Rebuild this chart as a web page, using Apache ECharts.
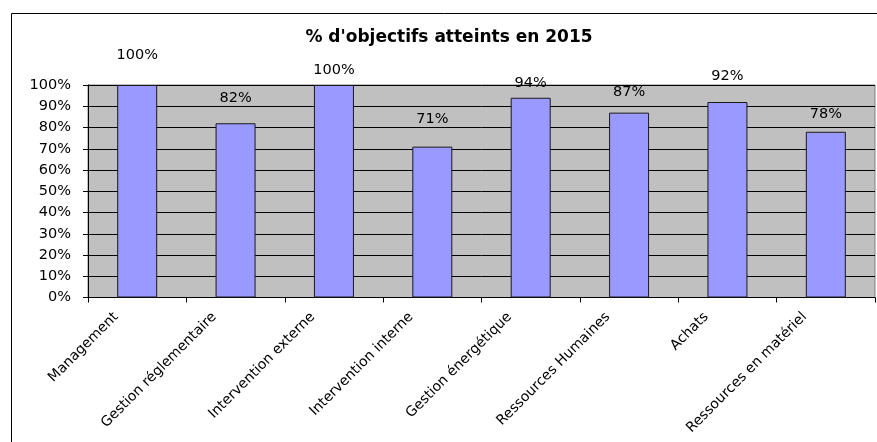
<!DOCTYPE html>
<html>
<head>
<meta charset="utf-8">
<script src="https://cdn.jsdelivr.net/npm/echarts@6/dist/echarts.min.js"></script>
<style>
html,body{margin:0;padding:0;background:#fff;}
#chart{width:877px;height:442px;}
</style>
</head>
<body>
<div id="chart"></div>
<script>
const titleText = "% d'objectifs atteints en 2015";
const categories = ["Management", "Gestion réglementaire", "Intervention externe", "Intervention interne", "Gestion énergétique", "Ressources Humaines", "Achats", "Ressources en matériel"];
const values = [100, 82, 100, 71, 94, 87, 92, 78];
const yTicks = [0, 10, 20, 30, 40, 50, 60, 70, 80, 90, 100];
// label gap above each bar (style only)
const labelGaps = [22, 18, 7, 20, 7, 13, 18, 10];

const FONT = "'DejaVu Sans', Arial, sans-serif";
const chart = echarts.init(document.getElementById('chart'), null, {renderer: 'canvas'});
chart.setOption({
  animation: false,
  backgroundColor: '#fff',
  title: {
    text: titleText,
    left: 444, top: 24, textAlign: 'center',
    textStyle: {fontFamily: FONT, fontSize: 17, fontWeight: 'bold', color: '#000'}
  },
  graphic: [
    {type: 'line', shape: {x1: 11.5, y1: 13.5, x2: 877, y2: 13.5}, style: {stroke: '#000', lineWidth: 1}},
    {type: 'line', shape: {x1: 11.5, y1: 13.5, x2: 11.5, y2: 442}, style: {stroke: '#000', lineWidth: 1}}
  ],
  grid: {left: 88, top: 85, width: 787, height: 212.5, containLabel: false, outerBoundsMode: 'none', show: true, backgroundColor: '#C0C0C0', borderColor: '#808080', borderWidth: 1},
  xAxis: {
    type: 'category',
    data: categories,
    boundaryGap: true,
    axisLine: {lineStyle: {color: '#000', width: 1}},
    axisTick: {show: true, alignWithLabel: false, length: 5, lineStyle: {color: '#000'}},
    axisLabel: {
      rotate: 45, interval: 0, margin: -4, padding: [0, 30, 0, 0],
      fontFamily: FONT, fontSize: 14, color: '#000'
    }
  },
  yAxis: {
    type: 'value',
    min: 0, max: 100, interval: 10,
    axisLine: {show: true, lineStyle: {color: '#000', width: 1}},
    axisTick: {show: true, length: 5, lineStyle: {color: '#000'}},
    splitLine: {show: true, lineStyle: {color: '#000', width: 1}},
    axisLabel: {
      margin: 17, fontFamily: FONT, fontSize: 14.5, color: '#000',
      formatter: v => yTicks.includes(v) ? v + '%' : ''
    }
  },
  series: [{
    type: 'bar',
    barWidth: 40,
    data: values.map((v, i) => ({
      value: v,
      label: {distance: labelGaps[i]}
    })),
    itemStyle: {color: '#9999FF', borderColor: '#1a1a1a', borderWidth: 1},
    label: {
      show: true, position: 'top',
      fontFamily: FONT, fontSize: 14.5, color: '#000',
      formatter: p => p.value + '%'
    }
  }]
});
</script>
</body>
</html>
